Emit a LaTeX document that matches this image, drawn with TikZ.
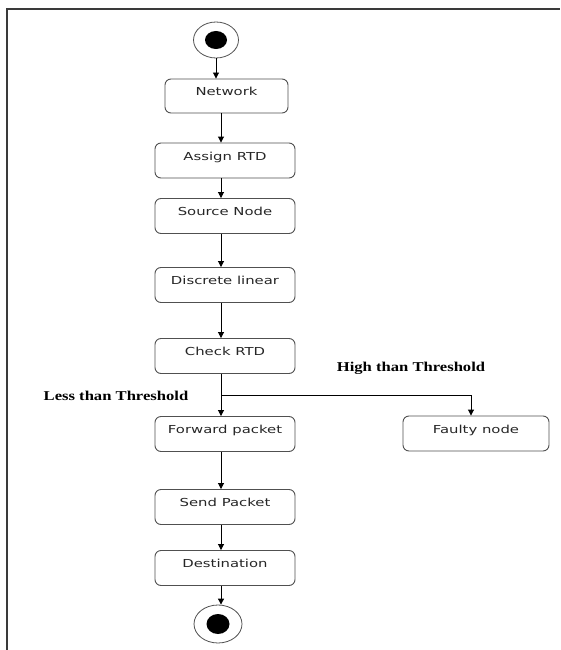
\documentclass[tikz,border=0pt]{standalone}
\usepackage{fontspec}
\newfontfamily\boxfont[FakeStretch=1.35]{DejaVu Sans}
\newfontfamily\labfont[FakeStretch=1.23]{Liberation Serif}
\usetikzlibrary{arrows.meta,shapes.geometric}
\definecolor{boxgray}{HTML}{505050}
\definecolor{framegray}{HTML}{3A3A3A}
\begin{document}
\begin{tikzpicture}[x=1pt,y=-1pt,
  actbox/.style={draw=boxgray, line width=0.9pt, rounded corners=6pt,
    minimum width=140pt, inner xsep=0pt, inner ysep=0pt,
    text height=17pt, text depth=18pt,
    font=\boxfont\fontsize{11}{13}\selectfont, text=black!85},
  flowarr/.style={draw=black, line width=0.9pt, -{Triangle[width=6pt,length=6pt]}},
  guard/.style={inner sep=0pt, font=\labfont\bfseries\fontsize{13.5}{16}\selectfont},
  outerc/.style={ellipse, draw=boxgray, line width=0.8pt, inner sep=0pt}
]
\useasboundingbox (0,0) rectangle (560,650);
% frame
\draw[framegray, line width=1.2pt] (7,650) -- (7,9) -- (560,9);

\coordinate (col) at (221,0);
\coordinate (fcol) at (471,0);

\node[outerc, minimum width=45pt, minimum height=36pt] (start) at (216,40) {};
\fill (start.center) ellipse [x radius=11pt, y radius=9pt];

\node[actbox, minimum width=123pt, text depth=17pt] (net) at (226.5,96) {Network};
\node[actbox] (assign) at (225,160.5) {Assign RTD};
\node[actbox] (src) at (225,216) {Source Node};
\node[actbox] (disc) at (225,285) {Discrete linear};
\node[actbox] (check) at (225,356) {Check RTD};
\node[actbox] (fwd) at (225,434) {Forward packet};
\node[actbox, minimum width=146pt] (faulty) at (476,433.5) {Faulty node};
\node[actbox] (send) at (225,507) {Send Packet};
\node[actbox] (dest) at (225,568) {Destination};

\node[outerc, minimum width=48pt, minimum height=38pt] (end) at (218,624) {};
\fill (end.center) ellipse [x radius=11.5pt, y radius=10pt];

\node[guard] (ht) at (411,368) {High than Threshold};
\node[guard] (lt) at (116,396) {Less than Threshold};

\coordinate (br) at (221,395);

\draw[flowarr] (start.south) -- (net.north -| start);
\draw[flowarr] (net.south -| col) -- (assign.north -| col);
\draw[flowarr] (assign.south -| col) -- (src.north -| col);
\draw[flowarr] (src.south -| col) -- (disc.north -| col);
\draw[flowarr] (disc.south -| col) -- (check.north -| col);
\draw[flowarr] (check.south -| col) -- (fwd.north -| col);
\draw[flowarr] (br) -| (faulty.north -| fcol);
\draw[flowarr] (fwd.south -| col) -- (send.north -| col);
\draw[flowarr] (send.south -| col) -- (dest.north -| col);
\draw[flowarr] (dest.south -| col) -- (end.north -| col);
\end{tikzpicture}
\end{document}
